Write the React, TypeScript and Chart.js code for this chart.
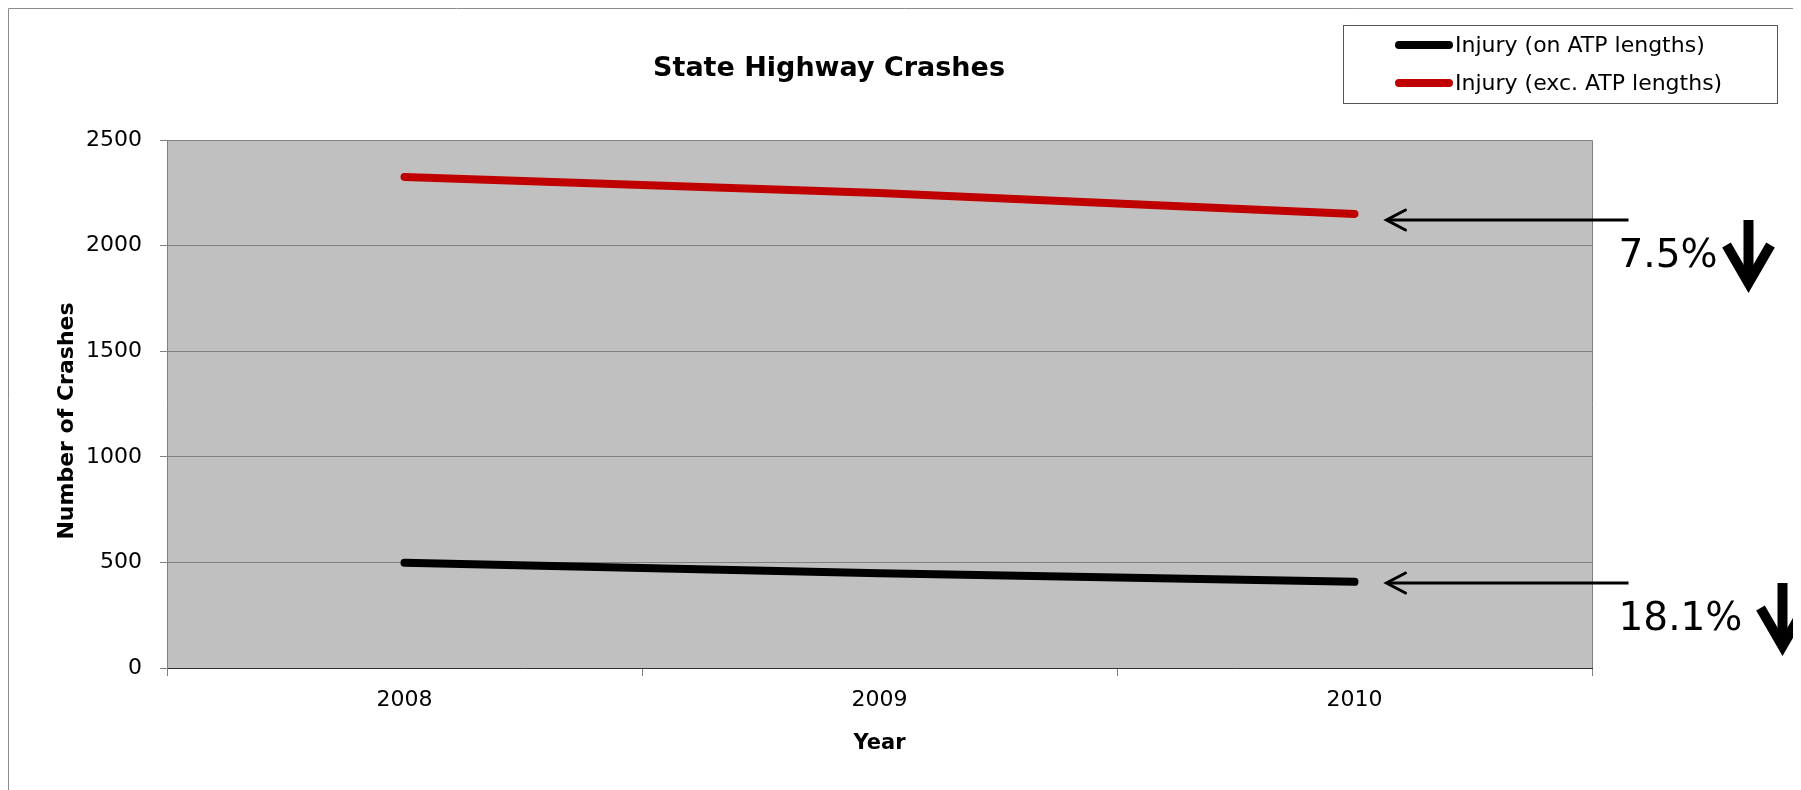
import React, { useEffect, useRef } from "react";
import { Chart, registerables } from "chart.js";

Chart.register(...registerables);

// Crash counts per year
const years = ["2008", "2009", "2010"];
const injuryOnAtp = [498, 449, 408];
const injuryExcAtp = [2325, 2249, 2150];

const seriesLabels = ["Injury (on ATP lengths)", "Injury (exc. ATP lengths)"];
const seriesColors = ["#000000", "#C00000"];

const yMin = 0;
const yMax = 2500;
const yStep = 500;

const chartTitle = "State Highway Crashes";
const xTitle = "Year";
const yTitle = "Number of Crashes";

const W = 1793;
const H = 782;
const FONT = "'DejaVu Sans', Verdana, sans-serif";

// Percentage drop from first to last year, as shown beside each series
const pctDrop = (vals: number[]) =>
  ((1 - vals[vals.length - 1] / vals[0]) * 100).toFixed(1) + "%";

const drawDownArrow = (ctx: CanvasRenderingContext2D, cx: number, top: number) => {
  const tip = top + 73;
  ctx.save();
  ctx.strokeStyle = "#000";
  ctx.lineWidth = 10;
  ctx.lineCap = "butt";
  ctx.beginPath();
  ctx.moveTo(cx, top);
  ctx.lineTo(cx, tip - 12);
  ctx.stroke();
  ctx.lineJoin = "miter";
  ctx.miterLimit = 10;
  ctx.beginPath();
  ctx.moveTo(cx - 22, tip - 48);
  ctx.lineTo(cx, tip - 10);
  ctx.lineTo(cx + 22, tip - 48);
  ctx.stroke();
  ctx.restore();
};

const decorPlugin = {
  id: "decor",
  beforeDraw(chart: any) {
    const { ctx, chartArea: a } = chart;
    ctx.save();
    ctx.fillStyle = "#ffffff";
    ctx.fillRect(0, 0, chart.width, chart.height);
    ctx.fillStyle = "#C0C0C0";
    ctx.fillRect(a.left, a.top, a.right - a.left, a.bottom - a.top);
    ctx.restore();
  },
  afterDraw(chart: any) {
    const { ctx, chartArea: a } = chart;
    ctx.save();

    // plot frame (top and right edges)
    ctx.strokeStyle = "#808080";
    ctx.lineWidth = 1;
    ctx.beginPath();
    ctx.moveTo(a.left, a.top + 0.5);
    ctx.lineTo(a.right + 0.5, a.top + 0.5);
    ctx.lineTo(a.right + 0.5, a.bottom);
    ctx.stroke();

    // outer chart frame
    ctx.strokeStyle = "#8c8c8c";
    ctx.beginPath();
    ctx.moveTo(0.5, chart.height);
    ctx.lineTo(0.5, 0.5);
    ctx.lineTo(chart.width, 0.5);
    ctx.stroke();

    // chart title
    ctx.fillStyle = "#000";
    ctx.font = `bold 27px ${FONT}`;
    ctx.textAlign = "center";
    ctx.textBaseline = "middle";
    ctx.fillText(chartTitle, 821, 61);

    // y axis title
    ctx.save();
    ctx.translate(59, 413);
    ctx.rotate(-Math.PI / 2);
    ctx.font = `bold 22px ${FONT}`;
    ctx.fillText(yTitle, 0, 0);
    ctx.restore();

    // legend
    ctx.strokeStyle = "#555";
    ctx.lineWidth = 1;
    ctx.strokeRect(1335.5, 17.5, 434, 78);
    ctx.font = `22px ${FONT}`;
    ctx.textAlign = "left";
    chart.data.datasets.forEach((ds: any, i: number) => {
      const y = 37 + i * 38;
      ctx.strokeStyle = ds.borderColor;
      ctx.lineWidth = 8;
      ctx.lineCap = "round";
      ctx.beginPath();
      ctx.moveTo(1391, y);
      ctx.lineTo(1441, y);
      ctx.stroke();
      ctx.fillStyle = "#000";
      ctx.fillText(ds.label, 1447, y + 1);
    });

    // change annotations beside the last year
    const arrowDy = [1, 6];
    const downArrowDx = [428, 394];
    chart.data.datasets.forEach((ds: any, i: number) => {
      const meta = chart.getDatasetMeta(i);
      const p = meta.data[meta.data.length - 1];
      const y = Math.round(p.y + arrowDy[i]);
      const tipX = p.x + 32;
      ctx.strokeStyle = "#000";
      ctx.lineWidth = 3;
      ctx.lineCap = "butt";
      ctx.beginPath();
      ctx.moveTo(p.x + 274, y);
      ctx.lineTo(tipX + 1, y);
      ctx.stroke();
      ctx.lineCap = "round";
      ctx.beginPath();
      ctx.moveTo(tipX + 19, y - 10);
      ctx.lineTo(tipX, y);
      ctx.lineTo(tipX + 19, y + 10);
      ctx.stroke();

      ctx.fillStyle = "#000";
      ctx.font = `39px ${FONT}`;
      ctx.textAlign = "left";
      ctx.textBaseline = "alphabetic";
      ctx.fillText(pctDrop(ds.data), p.x + 264, y + 47);

      drawDownArrow(ctx, p.x + downArrowDx[i], y);
    });

    ctx.restore();
  },
};

export default function App() {
  const ref = useRef<HTMLCanvasElement>(null);

  useEffect(() => {
    document.documentElement.style.overflow = "hidden";
    document.body.style.overflow = "hidden";
    if (!ref.current) return;
    const chart = new Chart(ref.current, {
      type: "line",
      data: {
        labels: years,
        datasets: [
          {
            label: seriesLabels[0],
            data: injuryOnAtp,
            borderColor: seriesColors[0],
            backgroundColor: seriesColors[0],
            borderWidth: 8,
            borderCapStyle: "round",
            borderJoinStyle: "round",
            pointRadius: 0,
            tension: 0,
          },
          {
            label: seriesLabels[1],
            data: injuryExcAtp,
            borderColor: seriesColors[1],
            backgroundColor: seriesColors[1],
            borderWidth: 8,
            borderCapStyle: "round",
            borderJoinStyle: "round",
            pointRadius: 0,
            tension: 0,
          },
        ],
      },
      options: {
        responsive: false,
        animation: false,
        devicePixelRatio: 1,
        layout: { padding: { left: 0, top: 132, right: 209, bottom: 0 } },
        plugins: {
          legend: { display: false },
          title: { display: false },
          tooltip: { enabled: false },
        },
        scales: {
          x: {
            type: "category",
            offset: true,
            grid: {
              offset: true,
              drawOnChartArea: false,
              drawTicks: true,
              tickLength: 8,
              color: "#808080",
            },
            border: { display: true, color: "#303030", width: 1 },
            ticks: {
              color: "#000",
              padding: 11,
              font: { family: FONT, size: 22 },
              maxRotation: 0,
            },
            title: {
              display: true,
              text: xTitle,
              color: "#000",
              font: { family: FONT, size: 21, weight: "bold" },
              padding: { top: 0, bottom: 34 },
            },
            afterFit: (s: any) => {
              s.height = 122;
            },
          },
          y: {
            min: yMin,
            max: yMax,
            grid: {
              color: "#808080",
              lineWidth: 1,
              drawTicks: true,
              tickLength: 7,
            },
            border: { display: true, color: "#808080", width: 1 },
            ticks: {
              stepSize: yStep,
              color: "#000",
              padding: 18,
              font: { family: FONT, size: 22 },
              callback: (v: any) => String(v),
            },
            afterFit: (s: any) => {
              s.width = 159;
            },
          },
        },
      } as any,
      plugins: [decorPlugin],
    });
    return () => chart.destroy();
  }, []);

  return <canvas ref={ref} width={W} height={H} style={{ display: "block" }} />;
}
